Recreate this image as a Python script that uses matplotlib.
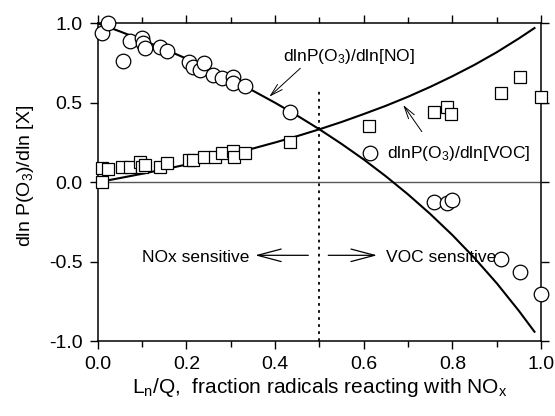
import matplotlib
matplotlib.use("Agg")
import matplotlib.pyplot as plt

plt.rcParams['font.family'] = ['Liberation Sans', 'DejaVu Sans']
plt.rcParams['mathtext.default'] = 'regular'

# model curves
curve_x = [0.0, 0.05, 0.1, 0.15, 0.2, 0.25, 0.3, 0.35, 0.4, 0.45, 0.5,
           0.55, 0.6, 0.65, 0.7, 0.75, 0.8, 0.85, 0.9, 0.95, 0.985]
curve_no = [1.0, 0.949, 0.895, 0.838, 0.778, 0.714, 0.647, 0.576, 0.5, 0.419, 0.333,
            0.241, 0.143, 0.037, -0.077, -0.2, -0.333, -0.478, -0.636, -0.81, -0.941]
curve_voc = [0.0, 0.026, 0.053, 0.081, 0.111, 0.143, 0.176, 0.212, 0.25, 0.29, 0.333,
             0.379, 0.429, 0.481, 0.538, 0.6, 0.667, 0.739, 0.818, 0.905, 0.97]

# circles: dlnP(O3)/dln[NO]
no_x = [0.009, 0.024, 0.058, 0.073, 0.099, 0.103, 0.107, 0.141, 0.156, 0.205, 0.216,
        0.231, 0.240, 0.261, 0.280, 0.306, 0.305, 0.333, 0.433, 0.613, 0.758, 0.788,
        0.799, 0.910, 0.952, 1.000]
no_y = [0.937, 1.0, 0.763, 0.891, 0.906, 0.875, 0.843, 0.853, 0.828, 0.759, 0.727,
        0.706, 0.752, 0.675, 0.654, 0.664, 0.627, 0.606, 0.440, 0.186, -0.122, -0.128,
        -0.111, -0.482, -0.566, -0.704]

# squares: dlnP(O3)/dln[VOC]
voc_x = [0.009, 0.009, 0.024, 0.054, 0.073, 0.095, 0.099, 0.107, 0.141, 0.157, 0.205,
         0.214, 0.240, 0.265, 0.280, 0.306, 0.308, 0.333, 0.433, 0.611, 0.758, 0.788,
         0.797, 0.910, 0.952, 1.000]
voc_y = [0.0, 0.088, 0.082, 0.098, 0.094, 0.130, 0.098, 0.109, 0.094, 0.119, 0.140,
         0.140, 0.161, 0.161, 0.182, 0.199, 0.161, 0.182, 0.255, 0.354, 0.444, 0.472,
         0.430, 0.560, 0.660, 0.538]

fig = plt.figure(figsize=(5.55, 4.16), dpi=100)
ax = fig.add_axes([0.176, 0.180, 0.799, 0.764])

ax.axhline(0, color='0.35', lw=1.0, zorder=1)
ax.plot([0.5, 0.5], [-1.0, 0.59], color='black', lw=1.3, dashes=(1.5, 2.4), zorder=1)

ax.plot(curve_x, curve_no, color='black', lw=1.5, zorder=2)
ax.plot(curve_x, curve_voc, color='black', lw=1.5, zorder=2)

ax.plot(voc_x, voc_y, 's', ms=9, mfc='white', mec='black', mew=0.9, zorder=3, clip_on=False)
ax.plot(no_x, no_y, 'o', ms=10.5, mfc='white', mec='black', mew=0.9, zorder=3, clip_on=False)

# curve labels
thin = dict(arrowstyle='->,head_length=0.9,head_width=0.25', color='black', lw=0.7,
            shrinkA=0, shrinkB=0)
ax.annotate('', xy=(0.387, 0.538), xytext=(0.457, 0.717), arrowprops=thin)
ax.text(0.419, 0.765, 'dlnP(O$_3$)/dln[NO]', fontsize=12.5, va='baseline')
ax.annotate('', xy=(0.689, 0.486), xytext=(0.731, 0.318), arrowprops=thin)
ax.text(0.652, 0.151, 'dlnP(O$_3$)/dln[VOC]', fontsize=12.5, va='baseline')

# regime arrows
wide = dict(arrowstyle='->,head_length=1.7,head_width=0.45', color='black', lw=0.9,
            shrinkA=0, shrinkB=0, mutation_scale=10)
ax.annotate('', xy=(0.355, -0.46), xytext=(0.475, -0.46), arrowprops=wide)
ax.annotate('', xy=(0.63, -0.46), xytext=(0.52, -0.46), arrowprops=wide)
ax.text(0.099, -0.50, 'NOx sensitive', fontsize=12.5, va='baseline')
ax.text(0.651, -0.50, 'VOC sensitive', fontsize=12.5, va='baseline')

ax.set_xlim(0, 1)
ax.set_ylim(-1, 1)
ax.set_xticks([0, 0.2, 0.4, 0.6, 0.8, 1.0])
ax.set_xticks([0.1, 0.3, 0.5, 0.7, 0.9], minor=True)
ax.set_xticklabels(['0.0', '0.2', '0.4', '0.6', '0.8', '1.0'])
ax.set_yticks([-1.0, -0.5, 0.0, 0.5, 1.0])
ax.set_yticklabels(['-1.0', '-0.5', '0.0', '0.5', '1.0'])
ax.tick_params(which='both', direction='out', top=True, right=True, labelsize=14, width=1.0)
ax.tick_params(which='major', length=6, pad=5)
ax.tick_params(which='minor', length=4.5)
for s in ax.spines.values():
    s.set_linewidth(1.1)

ax.set_xlabel('L$_n$/Q,  fraction radicals reacting with NO$_x$', fontsize=15, labelpad=2)
ax.set_ylabel('dln P(O$_3$)/dln [X]', fontsize=14)
ax.yaxis.set_label_coords(-0.14, 0.52)

plt.savefig('out.png', dpi=100)
